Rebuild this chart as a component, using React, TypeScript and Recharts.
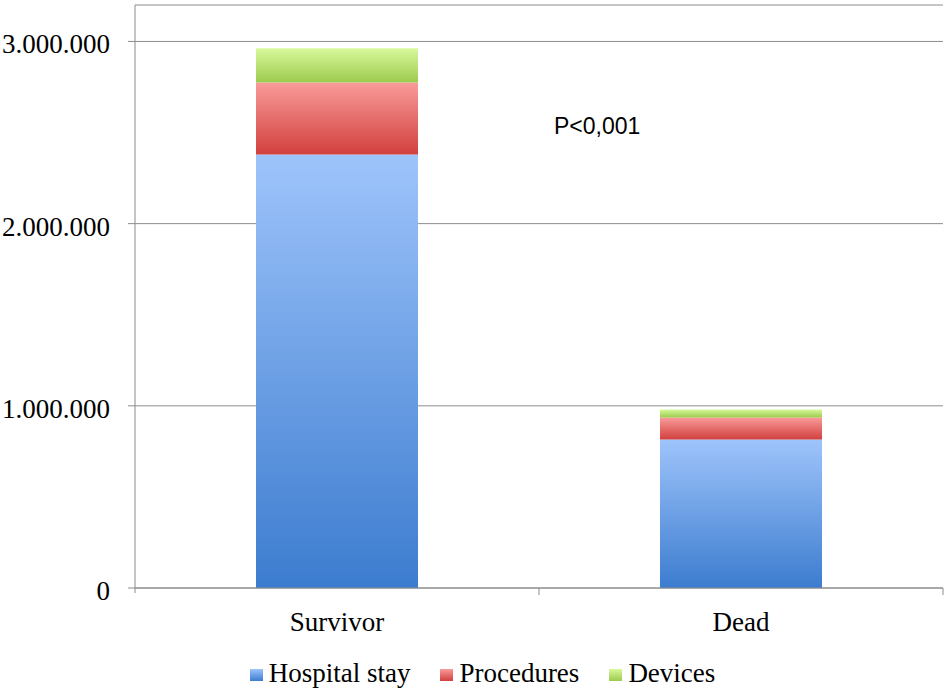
import React from "react";
import { BarChart, Bar, XAxis, YAxis, CartesianGrid, Legend } from "recharts";

const categories = ["Survivor", "Dead"];
const hospitalStay = [2380000, 815000];
const procedures = [395000, 121000];
const devices = [187000, 44000];
const yTicks = [0, 1000000, 2000000, 3000000];
const seriesNames = ["Hospital stay", "Procedures", "Devices"];

const data = categories.map((name, i) => ({
    name,
    hospital: hospitalStay[i],
    procedures: procedures[i],
    devices: devices[i],
}));

const W = 950;
const H = 691;
const LEFT = 135;
const RIGHT = 7;
const HALF_BAND = (W - LEFT - RIGHT) / categories.length / 2;
const AXIS = "#8c8c8c";
const SERIF = "Liberation Serif, DejaVu Serif, serif";

const gradients = [
    { id: "gBlue", top: "#9ec4fb", bottom: "#3c7ccf" },
    { id: "gRed", top: "#f99b9a", bottom: "#d1403e" },
    { id: "gGreen", top: "#d8f99c", bottom: "#9ccb4d" },
];

const fmt = (v: number) => String(v).replace(/\B(?=(\d{3})+(?!\d))/g, ".");

const YTick = (props: any) => {
    const { x, y, payload } = props;
    return (
        <text x={x} y={y} dy={12} textAnchor="end" fontSize={27} fontFamily={SERIF} fill="#000">
            {fmt(payload.value)}
        </text>
    );
};

const XTick = (props: any) => {
    const { x, y, payload, index } = props;
    return (
        <g>
            {index === 0 && <line x1={x - HALF_BAND} y1={y} x2={x - HALF_BAND} y2={y + 5} stroke={AXIS} />}
            <line x1={x + HALF_BAND} y1={y} x2={x + HALF_BAND} y2={y + 7} stroke={AXIS} />
            <text x={x} y={y} dy={43} textAnchor="middle" fontSize={27} fontFamily={SERIF} fill="#000">
                {payload.value}
            </text>
        </g>
    );
};

const LegendContent = () => (
    <div style={{ display: "flex", justifyContent: "center", alignItems: "center", fontFamily: SERIF, fontSize: 27, color: "#000", paddingLeft: 15 }}>
        {seriesNames.map((s, i) => (
            <div key={s} style={{ display: "flex", alignItems: "center", marginRight: i < 2 ? 30 : 0 }}>
                <div style={{ width: 13, height: 12, marginRight: 6, marginTop: 2, background: `linear-gradient(${gradients[i].top}, ${gradients[i].bottom})` }} />
                <span>{s}</span>
            </div>
        ))}
    </div>
);

export default function App() {
    return (
        <div style={{ position: "absolute", left: 0, top: 0, width: W, height: H, background: "#fff" }}>
            <BarChart width={W} height={H} data={data} margin={{ top: 5, right: RIGHT, left: 0, bottom: 53 }}>
                <defs>
                    {gradients.map((g) => (
                        <linearGradient key={g.id} id={g.id} x1="0" y1="0" x2="0" y2="1">
                            <stop offset="0%" stopColor={g.top} />
                            <stop offset="100%" stopColor={g.bottom} />
                        </linearGradient>
                    ))}
                </defs>
                <CartesianGrid horizontal vertical={false} stroke={AXIS} />
                <XAxis
                    dataKey="name"
                    height={50}
                    tickSize={0}
                    tickMargin={0}
                    tickLine={false}
                    axisLine={{ stroke: AXIS }}
                    tick={<XTick />}
                    interval={0}
                />
                <YAxis
                    width={LEFT}
                    domain={[0, 3200000]}
                    ticks={yTicks}
                    interval={0}
                    tickSize={7}
                    tickMargin={18}
                    tickLine={{ stroke: AXIS }}
                    axisLine={{ stroke: AXIS }}
                    tick={<YTick />}
                />
                <Legend
                    verticalAlign="middle"
                    align="center"
                    layout="horizontal"
                    content={<LegendContent />}
                    wrapperStyle={{ top: 658, left: 0, width: W }}
                />
                <Bar dataKey="hospital" stackId="a" barSize={162} fill="url(#gBlue)" isAnimationActive={false} />
                <Bar dataKey="procedures" stackId="a" barSize={162} fill="url(#gRed)" isAnimationActive={false} />
                <Bar dataKey="devices" stackId="a" barSize={162} fill="url(#gGreen)" isAnimationActive={false} />
            </BarChart>
            <div style={{ position: "absolute", left: 554, top: 113, fontFamily: "Liberation Sans, Arial, sans-serif", fontSize: 23, color: "#000" }}>
                P&lt;0,001
            </div>
        </div>
    );
}
